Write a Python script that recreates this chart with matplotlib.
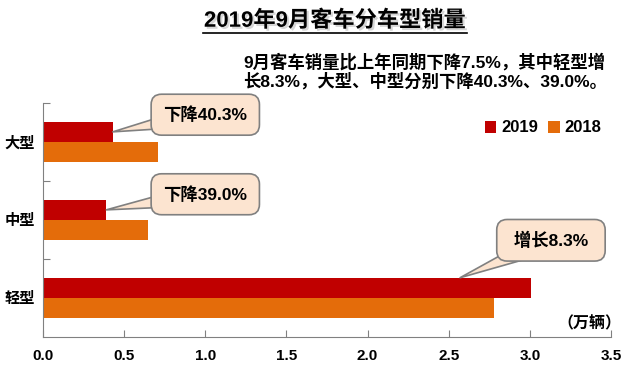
import matplotlib
matplotlib.use('Agg')
import matplotlib.pyplot as plt
import matplotlib.patheffects as pe
import numpy as np

plt.rcParams['font.family'] = ['Liberation Sans', 'Noto Sans CJK SC']
plt.rcParams['font.weight'] = 'bold'

categories = ['大型', '中型', '轻型']
sales_2019 = [0.43, 0.39, 3.01]
sales_2018 = [0.71, 0.65, 2.78]
x_ticks = [0.0, 0.5, 1.0, 1.5, 2.0, 2.5, 3.0, 3.5]
notes = ['下降40.3%', '下降39.0%', '增长8.3%']

c2019 = '#C00000'
c2018 = '#E46C0A'
box_fc = '#FCE4D0'
grey = '#808080'

fig = plt.figure(figsize=(6.4, 3.7), dpi=100)
ax = fig.add_axes([43/640, 1-337/370, (611-43)/640, (337-103)/370])

y = np.array([2, 1, 0])
h = 0.26
ax.barh(y + h/2, sales_2019, height=h, color=c2019, label='2019')
ax.barh(y - h/2, sales_2018, height=h, color=c2018, label='2018')

ax.set_xlim(0, 3.5)
ax.set_ylim(-0.5, 2.5)
ax.set_xticks(x_ticks)
ax.set_xticklabels([f'{t:.1f}' for t in x_ticks], fontsize=11, fontweight='bold')
ax.set_yticks([0.5, 1.5, 2.5])
ax.set_yticklabels([])
ax.set_yticks(y, minor=True)
ax.set_yticklabels(categories, minor=True, fontsize=11, fontweight='bold')
ax.tick_params(axis='y', which='minor', length=0, pad=6)
ax.tick_params(axis='both', which='major', direction='in', length=5, color=grey)
ax.tick_params(axis='x', pad=9)
for s in ['top', 'right']:
    ax.spines[s].set_visible(False)
for s in ['left', 'bottom']:
    ax.spines[s].set_color(grey)

# callouts
def callout(text, xy, xytext):
    ax.annotate(text, xy=xy, xytext=xytext, textcoords='data',
                ha='center', va='center', fontsize=12.5, fontweight='bold',
                bbox=dict(boxstyle='round,pad=0.7,rounding_size=0.6',
                          fc=box_fc, ec=grey, lw=1.2),
                arrowprops=dict(arrowstyle='wedge,tail_width=1.3',
                                fc=box_fc, ec=grey, lw=1.2, patchA=None,
                                shrinkA=0, shrinkB=0))

callout(notes[0], (sales_2019[0], y[0] + h/2), (1.0, 2.35))
callout(notes[1], (sales_2019[1], y[1] + h/2), (1.0, 1.33))
callout(' ' + notes[2] + ' ', (2.57, y[2] + h), (3.13, 0.74))

ax.text(1.019, 13/234, '（万辆）', transform=ax.transAxes, ha='right', va='center',
        fontsize=11.5, fontweight='bold')

fig.legend(loc='center right', bbox_to_anchor=(610/640, 1-128/370), ncol=2,
           frameon=False, handlelength=0.7, handleheight=0.7, handletextpad=0.3,
           columnspacing=0.6, borderpad=0, prop={'size': 12, 'weight': 'bold'})

fig.text(335/640, 1-21/370, '2019年9月客车分车型销量', ha='center', va='center',
         fontsize=16, fontweight='bold',
         path_effects=[pe.withSimplePatchShadow(offset=(1.5, -1.5), shadow_rgbFace='#bbbbbb', alpha=0.6)])
fig.add_artist(plt.Line2D([203/640, 467/640], [1-33/370, 1-33/370], color='black', lw=1.2,
                          path_effects=[pe.withSimplePatchShadow(offset=(1, -1.5), shadow_rgbFace='#999999', alpha=0.6)]))

fig.text(243/640, 1-71/370, '9月客车销量比上年同期下降7.5%，其中轻型增\n长8.3%，大型、中型分别下降40.3%、39.0%。',
         ha='left', va='center', fontsize=12.5, fontweight='bold', linespacing=1.1)

fig.savefig('out.png', dpi=100)
